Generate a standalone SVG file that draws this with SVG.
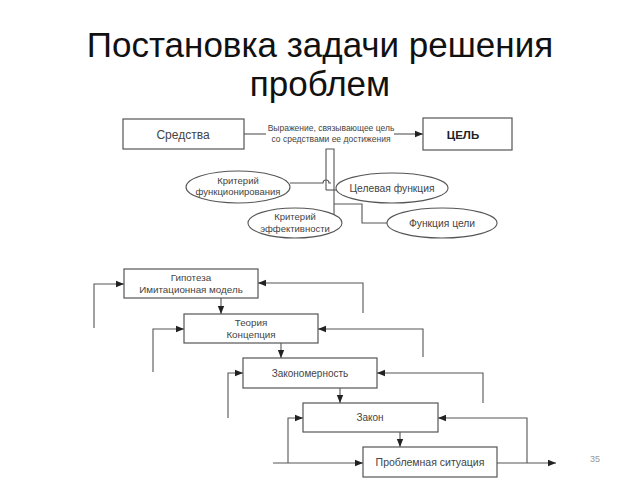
<svg xmlns="http://www.w3.org/2000/svg" width="640" height="480" viewBox="0 0 640 480">
<defs>
<marker id="ah" viewBox="0 0 10 10" refX="10" refY="5" markerWidth="8" markerHeight="8" markerUnits="userSpaceOnUse" orient="auto"><path d="M0,1 L10,5 L0,9 z" fill="#222"/></marker>
<style>
.box{fill:#fff;stroke:#555;stroke-width:1.2}
.ell{fill:#fff;stroke:#555;stroke-width:1.1}
.ln{fill:none;stroke:#555;stroke-width:1.1}
.arr{fill:none;stroke:#555;stroke-width:1.1;marker-end:url(#ah)}
.t{font-family:"Liberation Sans",Arial,sans-serif;fill:#444;text-anchor:middle}
.title{font-family:"Liberation Sans",Arial,sans-serif;fill:#111;text-anchor:middle;font-size:35px}
</style>
</defs>
<rect width="640" height="480" fill="#fff"/>
<text class="title" x="320" y="57">Постановка задачи решения</text>
<text class="title" x="320" y="96">проблем</text>

<g id="connectors">
<!-- top -->
<path class="ln" d="M244,134 H266"/>
<path class="arr" d="M394,134 H423"/>
<path class="ln" d="M326,190 V149 H334 V214"/>
<path class="ln" d="M326,190 H337"/>
<path class="ln" d="M290,183 H323 A3,3 0 0 1 329,183 H331"/>
<path class="ln" d="M334,204 H362 V223 H387"/>
<!-- bottom chain -->
<path class="arr" d="M221,298 V314"/>
<path class="arr" d="M281,343 V358"/>
<path class="arr" d="M340,388 V403"/>
<path class="arr" d="M400,432 V447"/>
<!-- left loops -->
<path class="arr" d="M94,328 V284 H124"/>
<path class="arr" d="M153,372 V329 H184"/>
<path class="arr" d="M228,418 V373 H243"/>
<path class="arr" d="M288,463 V418 H303"/>
<path class="arr" d="M273,463 H363"/>
<!-- right loops -->
<path class="arr" d="M363,313 V283 H258"/>
<path class="arr" d="M423,357 V329 H318"/>
<path class="arr" d="M483,403 V373 H377"/>
<path class="arr" d="M527,463 V418 H438"/>
<path class="arr" d="M497,463 H556"/>
</g>

<g id="sredstva"><rect class="box" x="123" y="119" width="121" height="30"/><text class="t" x="183" y="139" font-size="12">Средства</text></g>
<g id="label"><text class="t" x="331" y="131" font-size="8.5">Выражение, связывающее цель</text><text class="t" x="331" y="142" font-size="8.5">со средствами ее достижения</text></g>
<g id="cel"><rect class="box" x="423" y="118" width="89" height="32"/><text class="t" x="463" y="139" font-size="11.5" font-weight="bold" style="fill:#222">ЦЕЛЬ</text></g>

<g id="krit-func"><ellipse class="ell" cx="238" cy="187" rx="52" ry="16"/><text class="t" x="238" y="184" font-size="9.5">Критерий</text><text class="t" x="238" y="195" font-size="9.5">функционирования</text></g>
<g id="cel-func"><ellipse class="ell" cx="392" cy="188" rx="56" ry="15"/><text class="t" x="392" y="192" font-size="10.3">Целевая функция</text></g>
<g id="krit-eff"><ellipse class="ell" cx="295" cy="223" rx="47" ry="15"/><text class="t" x="295" y="220" font-size="9.5">Критерий</text><text class="t" x="295" y="232" font-size="9.5">эффективности</text></g>
<g id="func-celi"><ellipse class="ell" cx="442" cy="223" rx="55" ry="15"/><text class="t" x="442" y="227" font-size="10.3">Функция цели</text></g>

<g id="gipoteza"><rect class="box" x="124" y="269" width="134" height="29"/><text class="t" x="191" y="281" font-size="9.8">Гипотеза</text><text class="t" x="191" y="293" font-size="9.8">Имитационная модель</text></g>
<g id="teoriya"><rect class="box" x="184" y="314" width="134" height="29"/><text class="t" x="251" y="326" font-size="9.8">Теория</text><text class="t" x="251" y="338" font-size="9.8">Концепция</text></g>
<g id="zakonomernost"><rect class="box" x="243" y="358" width="134" height="30"/><text class="t" x="310" y="377" font-size="10">Закономерность</text></g>
<g id="zakon"><rect class="box" x="303" y="403" width="135" height="29"/><text class="t" x="370" y="421" font-size="10">Закон</text></g>
<g id="problem"><rect class="box" x="363" y="447" width="134" height="30"/><text class="t" x="430" y="466" font-size="10.5">Проблемная ситуация</text></g>

<text x="595" y="462" font-family="Liberation Sans,Arial,sans-serif" font-size="9" fill="#999" text-anchor="middle">35</text>
</svg>
